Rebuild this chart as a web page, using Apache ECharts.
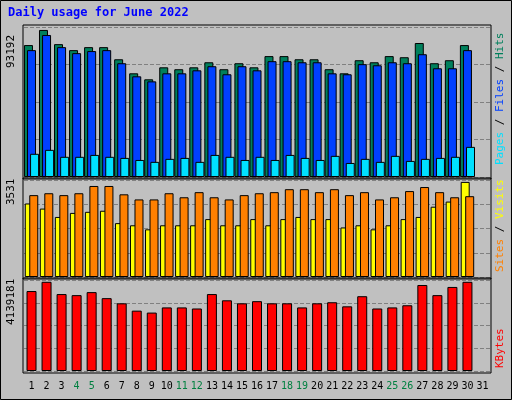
<!DOCTYPE html><html><head><meta charset="utf-8">
<script src="https://cdn.jsdelivr.net/npm/echarts@6/dist/echarts.min.js"></script>
<style>body{margin:0;background:#c0c0c0}#c{width:512px;height:400px}</style></head><body><div id="c"></div>
<script>
const days=[];for(let i=1;i<=31;i++)days.push(String(i));
const weekends=['4','5','11','12','18','19','25','26'];
const hits=[83600,93192,84200,80400,82300,82300,74600,65700,61900,69500,68300,69500,72700,68300,72100,69500,76600,76600,74600,74600,68300,65700,74000,72700,76600,75900,84900,72100,74000,83600,null];
const files=[80400,90000,82300,78500,79800,80400,72100,63800,60600,65700,65700,67600,70200,65100,70200,67600,73400,73400,72700,72700,65700,65100,71500,70800,72700,72100,77800,68900,68900,80400,null];
const pages=[14700,17200,12800,12800,14000,12800,12100,10800,9600,11500,12100,9600,14000,12800,10800,12800,10800,14000,12100,10800,13400,8900,11500,9600,13400,10200,11500,12100,12800,19100,null];
const sites=[3040,3110,3040,3110,3380,3380,3070,2880,2880,3110,2960,3150,2960,2880,3040,3110,3150,3260,3260,3150,3260,3040,3150,2880,2960,3190,3340,3150,2960,3000,null];
const visits=[2730,2540,2230,2380,2420,2460,2000,1920,1770,1920,1920,1920,2150,1920,1920,2150,1920,2150,2230,2150,2150,1840,1920,1770,1920,2150,2230,2610,2800,3531,null];
const kbytes=[3710000,4139181,3570000,3520000,3660000,3380000,3140000,2800000,2710000,2950000,2950000,2900000,3570000,3280000,3140000,3240000,3140000,3140000,2950000,3140000,3190000,3000000,3470000,2900000,2950000,3050000,3990000,3520000,3900000,4139181,null];
const maxTop=93192,maxMid=3531,maxBot=4139181;
const L=24,R=22;
const grids=[{left:L,right:R,top:27,height:150},{left:L,right:R,top:180,height:97},{left:L,right:R,top:280,height:91}];
function yax(i,max){return{gridIndex:i,type:'value',min:0,max:max*1.02,interval:max*1.02/4,
 axisLine:{show:false},axisTick:{show:false},
 splitLine:{lineStyle:{color:'#808080',type:'dashed',width:1}},
 axisLabel:{show:false}}}
function xax(i,show){return{gridIndex:i,type:'category',data:days,axisTick:{show:false},
 axisLine:{show:false},
 axisLabel:{show:show,interval:0,margin:10,fontFamily:'DejaVu Sans Mono',fontSize:10,
  formatter:v=>weekends.includes(v)?'{g|'+v+'}':'{k|'+v+'}',
  rich:{g:{color:'#008040',fontFamily:'DejaVu Sans Mono',fontSize:10},k:{color:'#000',fontFamily:'DejaVu Sans Mono',fontSize:10}}}}}
const bs=c=>({color:c,borderColor:'#000',borderWidth:1});
const chart=echarts.init(document.getElementById('c'));
chart.setOption({backgroundColor:'#c0c0c0',animation:false,
 grid:grids,
 xAxis:[xax(0,false),xax(1,false),xax(2,true)],
 yAxis:[yax(0,maxTop),yax(1,maxMid),yax(2,maxBot)],
 series:[
  {type:'bar',xAxisIndex:0,yAxisIndex:0,data:hits,barWidth:9,barGap:'-66%',itemStyle:bs('#00805c')},
  {type:'bar',xAxisIndex:0,yAxisIndex:0,data:files,barWidth:9,barGap:'-66%',itemStyle:bs('#0040ff')},
  {type:'bar',xAxisIndex:0,yAxisIndex:0,data:pages,barWidth:9,barGap:'-66%',itemStyle:bs('#00e0ff')},
  {type:'bar',xAxisIndex:1,yAxisIndex:1,data:visits,barWidth:9,barGap:'-50%',itemStyle:bs('#ffff00')},
  {type:'bar',xAxisIndex:1,yAxisIndex:1,data:sites,barWidth:9,barGap:'-50%',itemStyle:bs('#ff8000')},
  {type:'bar',xAxisIndex:2,yAxisIndex:2,data:kbytes,barWidth:10,itemStyle:bs('#ff0000')}
 ],
 graphic:[
  {type:'rect',shape:{x:0.5,y:0.5,width:511,height:399},style:{fill:'none',stroke:'#000',lineWidth:1},silent:true},
  {type:'rect',shape:{x:L-1,y:25,width:512-L-R+2,height:154},style:{fill:'none',stroke:'#000'},z:100},
  {type:'rect',shape:{x:L-1,y:178,width:512-L-R+2,height:101},style:{fill:'none',stroke:'#000'},z:100},
  {type:'rect',shape:{x:L-1,y:278,width:512-L-R+2,height:95},style:{fill:'none',stroke:'#000'},z:100},
  {type:'text',left:8,top:7,style:{text:'Daily usage for June 2022',fill:'#0000ff',font:'bold 12px "DejaVu Sans Mono"'}},
  {type:'text',x:6,y:68,rotation:Math.PI/2,style:{text:String(maxTop),fill:'#000',font:'11px "DejaVu Sans Mono"'}},
  {type:'text',x:6,y:205,rotation:Math.PI/2,style:{text:String(maxMid),fill:'#000',font:'11px "DejaVu Sans Mono"'}},
  {type:'text',x:6,y:325,rotation:Math.PI/2,style:{text:String(maxBot),fill:'#000',font:'11px "DejaVu Sans Mono"'}},
  {type:'text',x:495,y:165,rotation:Math.PI/2,style:{text:'{c|Pages}{k| / }{b|Files}{k| / }{g|Hits}',font:'11px "DejaVu Sans Mono"',
   rich:{c:{fill:'#00e0ff'},b:{fill:'#0040ff'},g:{fill:'#00805c'},k:{fill:'#000'}}}},
  {type:'text',x:495,y:272,rotation:Math.PI/2,style:{text:'{o|Sites}{k| / }{y|Visits}',font:'11px "DejaVu Sans Mono"',
   rich:{o:{fill:'#ff8000'},y:{fill:'#ffff00'},k:{fill:'#000'}}}},
  {type:'text',x:495,y:368,rotation:Math.PI/2,style:{text:'KBytes',fill:'#ff0000',font:'11px "DejaVu Sans Mono"'}}
 ]});
</script></body></html>
